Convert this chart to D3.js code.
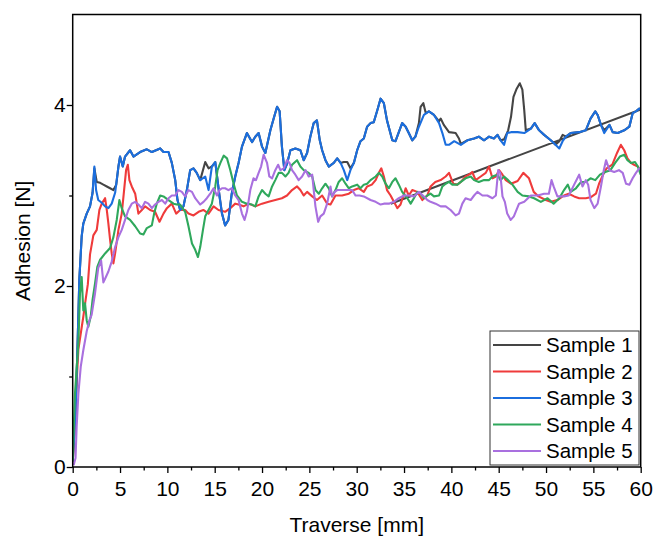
<!DOCTYPE html>
<html>
<head>
<meta charset="utf-8">
<script src="https://cdn.jsdelivr.net/npm/d3@7"></script>
<style>
  body { margin: 0; background: #fff; }
  text { font-family: "Liberation Sans", Arial, sans-serif; }
</style>
</head>
<body>
<svg id="chart" width="657" height="538"></svg>
<script>
// [traverse mm, adhesion N]
const sample1 = [[0,0.06],[0.3,0.6],[0.5,1.3],[0.7,2.07],[0.95,2.55],[1.12,2.69],[1.48,2.8],[1.83,2.88],[2.1,3.03],[2.29,3.3],[2.54,3.15],[2.9,3.14],[3.24,3.12],[3.6,3.1],[3.95,3.08],[4.3,3.06],[4.6,3.12],[4.83,3.32],[5.0,3.43],[5.29,3.32],[5.53,3.43],[6.06,3.5],[6.42,3.43],[7.12,3.48],[7.83,3.51],[8.36,3.48],[9.24,3.52],[9.59,3.48],[10.12,3.48],[10.47,3.36],[10.83,3.17],[11.07,2.95],[11.35,2.84],[11.7,2.88],[12.06,3.06],[12.41,3.28],[12.76,3.3],[13.1,3.25],[13.47,3.17],[14.0,3.37],[14.35,3.3],[14.7,3.32],[15.06,3.37],[15.3,3.17],[15.5,3.0],[15.77,2.8],[16.1,2.67],[16.45,2.73],[16.8,3.02],[17.17,3.21],[17.52,3.36],[17.88,3.54],[18.4,3.69],[18.94,3.59],[19.29,3.65],[19.64,3.69],[20.0,3.54],[20.35,3.47],[20.88,3.72],[21.23,3.85],[21.59,3.98],[21.86,3.93],[22.1,3.54],[22.36,3.28],[22.64,3.35],[23.0,3.5],[23.52,3.52],[24.05,3.5],[24.4,3.39],[24.76,3.47],[25.1,3.65],[25.46,3.8],[25.8,3.83],[26.1,3.61],[26.35,3.5],[26.7,3.39],[27.05,3.32],[27.58,3.36],[27.94,3.41],[28.3,3.36],[28.64,3.37],[29.0,3.37],[29.34,3.3],[29.7,3.36],[30.05,3.5],[30.4,3.6],[30.75,3.63],[31.1,3.76],[31.46,3.8],[31.8,3.81],[32.17,3.94],[32.52,4.07],[32.87,4.02],[33.2,3.83],[33.76,3.61],[34.1,3.6],[34.45,3.7],[34.8,3.8],[35.17,3.76],[35.5,3.69],[35.87,3.61],[36.2,3.65],[36.57,3.8],[36.75,3.98],[37.04,4.02],[37.3,3.91],[37.63,3.93],[38.16,3.89],[38.7,3.82],[38.87,3.85],[39.2,3.78],[39.75,3.7],[40.45,3.69],[40.8,3.63],[41.0,3.57],[41.7,3.61],[42.4,3.63],[42.9,3.65],[43.45,3.61],[43.98,3.65],[44.5,3.63],[44.87,3.67],[45.2,3.61],[45.57,3.62],[46.0,3.72],[46.3,3.87],[46.56,4.09],[46.9,4.18],[47.23,4.24],[47.5,4.17],[47.7,3.94],[47.86,3.72],[48.4,3.74],[48.8,3.8],[49.27,3.72],[49.8,3.67],[50.5,3.61],[51.0,3.56],[51.4,3.6],[51.75,3.67],[52.1,3.65],[52.6,3.69],[53.5,3.7],[54.2,3.72],[54.7,3.85],[55.2,3.93],[55.45,3.89],[55.8,3.78],[56.15,3.72],[56.7,3.78],[57.04,3.7],[57.57,3.69],[58.26,3.72],[58.8,3.76],[59.15,3.91],[59.5,3.93],[59.85,3.96],[60,3.95],[33.6,2.91]];

const sample2 = [[0,0.05],[0.2,0.4],[0.4,0.9],[0.6,1.3],[0.77,1.42],[1.12,1.66],[1.3,1.8],[1.6,2.02],[1.83,2.35],[2.18,2.56],[2.54,2.62],[2.82,2.84],[3.07,2.91],[3.42,2.97],[3.6,2.84],[3.77,2.69],[3.95,2.51],[4.12,2.36],[4.3,2.25],[4.48,2.36],[4.83,2.62],[5.18,2.8],[5.43,3.06],[5.64,3.28],[5.82,3.34],[5.99,3.17],[6.24,3.1],[6.6,3.02],[6.94,2.8],[7.3,2.84],[7.65,2.88],[8.18,2.84],[8.7,2.82],[9.17,2.71],[9.59,2.8],[9.95,2.86],[10.47,2.91],[10.93,2.8],[11.35,2.84],[11.88,2.84],[12.23,2.8],[12.76,2.78],[13.3,2.82],[13.8,2.84],[14.35,2.8],[14.88,2.88],[15.4,2.84],[16.1,2.82],[16.65,2.86],[17.17,2.91],[17.52,2.9],[18.05,2.88],[18.58,2.91],[19.29,2.88],[20.0,2.91],[20.7,2.93],[21.4,2.95],[22.1,2.97],[22.64,3.0],[23.17,3.06],[23.7,3.1],[24.05,3.06],[24.4,3.0],[24.76,3.04],[25.3,2.99],[25.8,2.95],[26.35,3.0],[26.88,2.91],[27.23,2.9],[27.76,3.0],[28.46,3.0],[29.17,3.02],[29.7,3.06],[30.2,3.08],[30.75,3.04],[31.1,3.1],[31.6,3.12],[32.0,3.17],[32.34,3.25],[32.6,3.3],[32.87,3.21],[33.2,3.06],[33.58,3.0],[33.93,2.93],[34.3,2.86],[34.63,2.9],[35.0,3.02],[35.17,3.08],[35.5,3.0],[35.87,3.06],[36.4,3.04],[36.93,2.95],[37.46,3.0],[37.8,3.1],[38.3,3.15],[38.87,3.17],[39.4,3.21],[39.75,3.25],[40.2,3.13],[40.63,3.12],[41.0,3.15],[41.5,3.21],[41.86,3.23],[42.2,3.26],[42.57,3.17],[43.1,3.21],[43.63,3.25],[43.98,3.32],[44.34,3.19],[44.7,3.21],[45.04,3.28],[45.4,3.23],[45.75,3.17],[46.3,3.13],[47.0,3.16],[47.6,3.25],[48.2,3.19],[48.7,3.04],[49.2,2.99],[49.97,2.95],[50.5,2.93],[51.2,2.95],[51.9,3.0],[52.4,3.02],[52.97,2.99],[53.5,2.97],[54.2,2.97],[54.7,2.98],[55.27,3.02],[55.6,3.13],[55.98,3.22],[56.4,3.3],[57.0,3.34],[57.5,3.47],[57.9,3.56],[58.26,3.5],[58.6,3.41],[58.97,3.36],[59.3,3.34],[59.7,3.32],[60,3.28]];

const sample3 = [[0,0.06],[0.3,0.6],[0.5,1.3],[0.7,2.07],[0.95,2.55],[1.12,2.69],[1.48,2.8],[1.83,2.88],[2.1,3.03],[2.29,3.32],[2.47,3.06],[2.7,2.95],[3.07,2.92],[3.42,2.88],[3.77,2.86],[4.12,2.91],[4.48,3.03],[4.83,3.32],[5.0,3.43],[5.29,3.32],[5.53,3.43],[6.06,3.5],[6.42,3.43],[7.12,3.48],[7.83,3.51],[8.36,3.48],[9.24,3.52],[9.59,3.48],[10.12,3.48],[10.47,3.36],[10.83,3.17],[11.07,2.95],[11.35,2.84],[11.7,2.88],[12.06,3.06],[12.41,3.28],[12.76,3.3],[13.1,3.25],[13.47,3.17],[14.0,3.21],[14.35,3.06],[14.7,3.32],[15.06,3.37],[15.3,3.17],[15.5,3.0],[15.77,2.8],[16.1,2.67],[16.45,2.73],[16.8,3.02],[17.17,3.21],[17.52,3.36],[17.88,3.54],[18.4,3.69],[18.94,3.59],[19.29,3.65],[19.64,3.69],[20.0,3.54],[20.35,3.47],[20.88,3.72],[21.23,3.85],[21.59,3.98],[21.86,3.93],[22.1,3.54],[22.36,3.28],[22.64,3.35],[23.0,3.5],[23.52,3.52],[24.05,3.5],[24.4,3.39],[24.76,3.47],[25.1,3.65],[25.46,3.8],[25.8,3.83],[26.1,3.61],[26.35,3.5],[26.7,3.39],[27.05,3.32],[27.58,3.36],[27.94,3.41],[28.3,3.36],[28.64,3.28],[29.0,3.17],[29.34,3.28],[29.7,3.36],[30.05,3.5],[30.4,3.6],[30.75,3.63],[31.1,3.76],[31.46,3.8],[31.8,3.81],[32.17,3.94],[32.52,4.07],[32.87,4.02],[33.2,3.83],[33.76,3.61],[34.1,3.6],[34.45,3.7],[34.8,3.8],[35.17,3.76],[35.5,3.69],[35.87,3.61],[36.2,3.65],[36.57,3.76],[37.1,3.89],[37.63,3.93],[38.16,3.89],[38.7,3.8],[39.05,3.69],[39.4,3.56],[39.75,3.56],[40.3,3.6],[41.0,3.56],[41.7,3.61],[42.4,3.63],[42.9,3.65],[43.45,3.61],[43.98,3.65],[44.5,3.63],[44.87,3.67],[45.2,3.61],[45.57,3.56],[45.9,3.69],[46.3,3.7],[47.0,3.7],[47.7,3.69],[48.4,3.74],[48.8,3.8],[49.27,3.72],[49.8,3.67],[50.5,3.61],[51.0,3.56],[51.4,3.52],[51.75,3.6],[52.1,3.65],[52.6,3.69],[53.5,3.7],[54.2,3.72],[54.7,3.85],[55.2,3.93],[55.45,3.89],[55.8,3.78],[56.15,3.69],[56.7,3.78],[57.04,3.7],[57.57,3.69],[58.26,3.72],[58.8,3.76],[59.15,3.91],[59.5,3.93],[59.85,3.96],[60,3.95]];

const sample4 = [[0,0.06],[0.24,0.81],[0.6,1.37],[0.77,1.92],[0.95,2.1],[1.12,1.73],[1.3,1.81],[1.48,1.62],[1.65,1.55],[1.9,1.66],[2.1,1.85],[2.36,2.03],[2.6,2.21],[2.9,2.29],[3.42,2.36],[3.95,2.42],[4.3,2.54],[4.65,2.73],[4.93,2.95],[5.18,2.86],[5.53,2.77],[6.06,2.73],[6.6,2.66],[7.12,2.58],[7.47,2.57],[7.83,2.64],[8.36,2.67],[8.6,2.8],[8.88,2.91],[9.24,3.0],[9.59,2.99],[10.12,2.95],[10.65,2.91],[11.0,2.9],[11.35,2.9],[11.88,2.82],[12.23,2.66],[12.6,2.47],[12.94,2.4],[13.23,2.32],[13.47,2.43],[13.76,2.62],[14.0,2.77],[14.35,2.84],[14.7,2.91],[15.06,3.1],[15.3,3.28],[15.6,3.36],[15.95,3.44],[16.3,3.41],[16.65,3.28],[17.0,3.13],[17.35,3.0],[17.88,2.93],[18.4,2.91],[18.94,2.9],[19.29,2.88],[19.64,2.99],[20.0,3.06],[20.35,3.02],[20.7,2.99],[21.06,3.1],[21.4,3.17],[21.76,3.25],[22.1,3.25],[22.47,3.21],[22.8,3.25],[23.17,3.34],[23.7,3.39],[24.05,3.32],[24.4,3.28],[24.93,3.25],[25.3,3.21],[25.64,3.06],[26.0,3.02],[26.35,3.08],[26.7,3.13],[27.05,3.08],[27.4,2.99],[27.76,3.06],[28.1,3.15],[28.46,3.19],[28.82,3.13],[29.17,3.08],[29.52,3.1],[30.05,3.12],[30.4,3.08],[30.75,3.12],[31.1,3.13],[31.46,3.17],[32.0,3.21],[32.34,3.25],[32.7,3.21],[33.05,3.13],[33.4,3.08],[33.76,3.15],[34.1,3.19],[34.45,3.12],[34.8,3.04],[35.35,2.97],[35.7,2.91],[36.04,2.97],[36.4,3.04],[36.75,3.02],[37.1,2.97],[37.46,3.0],[37.8,3.02],[38.16,2.99],[38.7,3.0],[39.05,3.1],[39.4,3.13],[39.75,3.15],[40.1,3.12],[40.63,3.12],[41.0,3.15],[41.5,3.19],[42.04,3.21],[42.4,3.17],[42.9,3.15],[43.45,3.17],[43.98,3.17],[44.34,3.21],[44.87,3.23],[45.2,3.17],[45.57,3.21],[45.9,3.18],[46.45,3.12],[47.0,3.04],[47.5,3.0],[48.2,2.99],[48.74,2.97],[49.45,2.93],[50.16,2.97],[50.8,2.91],[51.4,2.97],[51.9,3.06],[52.3,3.12],[52.6,3.04],[53.16,3.08],[53.7,3.15],[54.2,3.15],[54.7,3.19],[55.2,3.17],[55.7,3.23],[56.26,3.26],[56.8,3.28],[57.3,3.36],[57.8,3.43],[58.26,3.45],[58.6,3.39],[58.97,3.36],[59.4,3.37],[59.7,3.32],[60,3.23]];

const sample5 = [[0.1,0.02],[0.3,0.1],[0.42,0.45],[0.6,0.81],[0.85,1.11],[1.12,1.29],[1.48,1.5],[1.76,1.62],[2.0,1.68],[2.36,1.92],[2.7,2.2],[3.0,2.28],[3.24,2.04],[3.42,2.08],[3.77,2.16],[4.12,2.27],[4.48,2.43],[4.83,2.54],[5.18,2.62],[5.53,2.73],[5.88,2.84],[6.24,2.91],[6.6,2.93],[6.94,2.9],[7.3,2.86],[7.65,2.93],[8.0,2.91],[8.36,2.86],[8.7,2.9],[9.06,2.93],[9.42,2.95],[9.77,2.91],[10.12,2.97],[10.47,3.0],[10.83,3.0],[11.18,3.06],[11.53,3.04],[11.88,2.99],[12.23,3.06],[12.6,3.04],[12.94,2.97],[13.47,2.9],[13.82,2.93],[14.17,2.97],[14.53,3.02],[14.88,3.08],[15.24,3.0],[15.5,3.06],[15.77,3.08],[16.1,3.08],[16.45,3.06],[16.8,3.08],[17.17,3.0],[17.52,2.95],[17.88,2.8],[18.15,2.73],[18.4,2.82],[18.76,3.06],[19.1,3.19],[19.36,3.17],[19.64,3.25],[19.9,3.32],[20.17,3.45],[20.53,3.36],[20.77,3.21],[21.06,3.19],[21.4,3.28],[21.7,3.34],[21.94,3.28],[22.3,3.3],[22.64,3.39],[22.9,3.36],[23.17,3.28],[23.52,3.23],[23.87,3.17],[24.23,3.21],[24.6,3.28],[24.93,3.21],[25.3,3.23],[25.46,3.06],[25.64,2.88],[25.93,2.71],[26.17,2.77],[26.52,2.8],[26.88,2.91],[27.23,3.1],[27.4,2.99],[27.68,3.04],[27.94,3.06],[28.46,3.06],[29.0,3.06],[29.52,3.06],[29.87,3.0],[30.3,3.0],[30.75,2.99],[31.46,2.95],[32.0,2.93],[32.52,2.9],[32.87,2.91],[33.4,2.91],[33.93,2.93],[34.45,2.97],[35.0,3.0],[35.5,3.0],[36.04,2.99],[36.57,3.04],[37.1,2.99],[37.46,2.95],[37.8,2.93],[38.33,2.91],[38.87,2.88],[39.4,2.88],[39.92,2.84],[40.45,2.78],[40.8,2.8],[41.16,2.91],[41.5,2.97],[42.04,2.95],[42.4,3.0],[42.75,3.04],[43.28,3.0],[43.8,3.0],[44.34,2.97],[44.7,3.0],[44.95,3.28],[45.16,3.25],[45.4,2.99],[45.65,2.93],[45.9,2.8],[46.27,2.73],[46.6,2.77],[47.15,2.91],[47.7,2.93],[48.4,3.0],[49.1,3.0],[49.8,3.02],[50.3,3.02],[50.58,3.17],[50.8,3.1],[51.2,2.99],[51.9,2.99],[52.4,3.0],[52.97,3.12],[53.5,3.23],[53.85,3.1],[54.2,3.17],[54.45,3.12],[54.7,2.95],[55.1,2.86],[55.45,2.91],[55.8,3.1],[56.1,3.28],[56.34,3.39],[56.7,3.28],[57.2,3.26],[57.7,3.28],[58.1,3.25],[58.45,3.13],[58.8,3.12],[59.15,3.19],[59.5,3.25],[59.85,3.3],[60,3.3]];

const sampleNames = ["Sample 1", "Sample 2", "Sample 3", "Sample 4", "Sample 5"];
const sampleColors = ["#454545", "#ef3b3b", "#1b6ede", "#2fa85c", "#a970df"];
const sampleData = [sample1, sample2, sample3, sample4, sample5];

const xTicks = [0, 5, 10, 15, 20, 25, 30, 35, 40, 45, 50, 55, 60];
const xMinorTicks = [2.5, 7.5, 12.5, 17.5, 22.5, 27.5, 32.5, 37.5, 42.5, 47.5, 52.5, 57.5];
const yTicks = [0, 2, 4];
const yMinorTicks = [1, 3];

const margin = { top: 14.5, right: 16.3, bottom: 71, left: 72.7 };
const svgWidth = 657, svgHeight = 538;
const width = svgWidth - margin.left - margin.right;
const height = svgHeight - margin.top - margin.bottom;
const fontSize = 21;

const svg = d3.select("#chart");
const g = svg.append("g")
  .attr("transform", "translate(" + margin.left + "," + margin.top + ")");

const x = d3.scaleLinear().domain([0, 60]).range([0, width]);
const y = d3.scaleLinear().domain([0, 5]).range([height, 0]);

g.append("defs").append("clipPath").attr("id", "plotClip")
  .append("rect").attr("width", width).attr("height", height);

// data lines, sample 1 first so later ones sit on top
const line = d3.line().x((d) => x(d[0])).y((d) => y(d[1]));
g.append("g")
  .attr("clip-path", "url(#plotClip)")
  .selectAll("path")
  .data(sampleData)
  .enter()
  .append("path")
  .attr("d", line)
  .attr("fill", "none")
  .attr("stroke", (d, i) => sampleColors[i])
  .attr("stroke-width", 2.1)
  .attr("stroke-linejoin", "round");

// frame
g.append("rect")
  .attr("width", width)
  .attr("height", height)
  .attr("fill", "none")
  .attr("stroke", "#000")
  .attr("stroke-width", 1.5);

// axes
g.append("g")
  .attr("transform", "translate(0," + height + ")")
  .call(d3.axisBottom(x).tickValues(xTicks).tickSize(6).tickPadding(8).tickFormat(d3.format("d")));
g.append("g")
  .attr("transform", "translate(0," + height + ")")
  .call(d3.axisBottom(x).tickValues(xMinorTicks).tickSize(3.5).tickFormat(""));

g.append("g")
  .call(d3.axisLeft(y).tickValues(yTicks).tickSize(6).tickPadding(1).tickFormat(d3.format("d")));
g.append("g")
  .call(d3.axisLeft(y).tickValues(yMinorTicks).tickSize(3.5).tickFormat(""));

g.selectAll(".domain").remove();
g.selectAll(".tick line").attr("stroke", "#000").attr("stroke-width", 1.3);
g.selectAll(".tick text").attr("font-size", fontSize).attr("fill", "#000")
  .style("font-family", "'Liberation Sans', Arial, sans-serif");

// axis titles
svg.append("text")
  .attr("x", margin.left + width / 2)
  .attr("y", 532)
  .attr("text-anchor", "middle")
  .attr("font-size", fontSize)
  .text("Traverse [mm]");

svg.append("text")
  .attr("transform", "translate(30," + (margin.top + height / 2) + ") rotate(-90)")
  .attr("text-anchor", "middle")
  .attr("font-size", fontSize)
  .text("Adhesion [N]");

// legend
const legend = svg.append("g").attr("transform", "translate(490,331)");
legend.append("rect")
  .attr("width", 149)
  .attr("height", 134)
  .attr("fill", "#fff")
  .attr("stroke", "#333")
  .attr("stroke-width", 1);

const rows = legend.selectAll(".row")
  .data(sampleNames)
  .enter()
  .append("g")
  .attr("class", "row")
  .attr("transform", (d, i) => "translate(0," + (14 + i * 26.5) + ")");

rows.append("line")
  .attr("x1", 3)
  .attr("x2", 51)
  .attr("stroke", (d, i) => sampleColors[i])
  .attr("stroke-width", 2.1);

rows.append("text")
  .attr("x", 56)
  .attr("dy", "0.35em")
  .attr("font-size", 20.5)
  .text((d) => d);
</script>
</body>
</html>
